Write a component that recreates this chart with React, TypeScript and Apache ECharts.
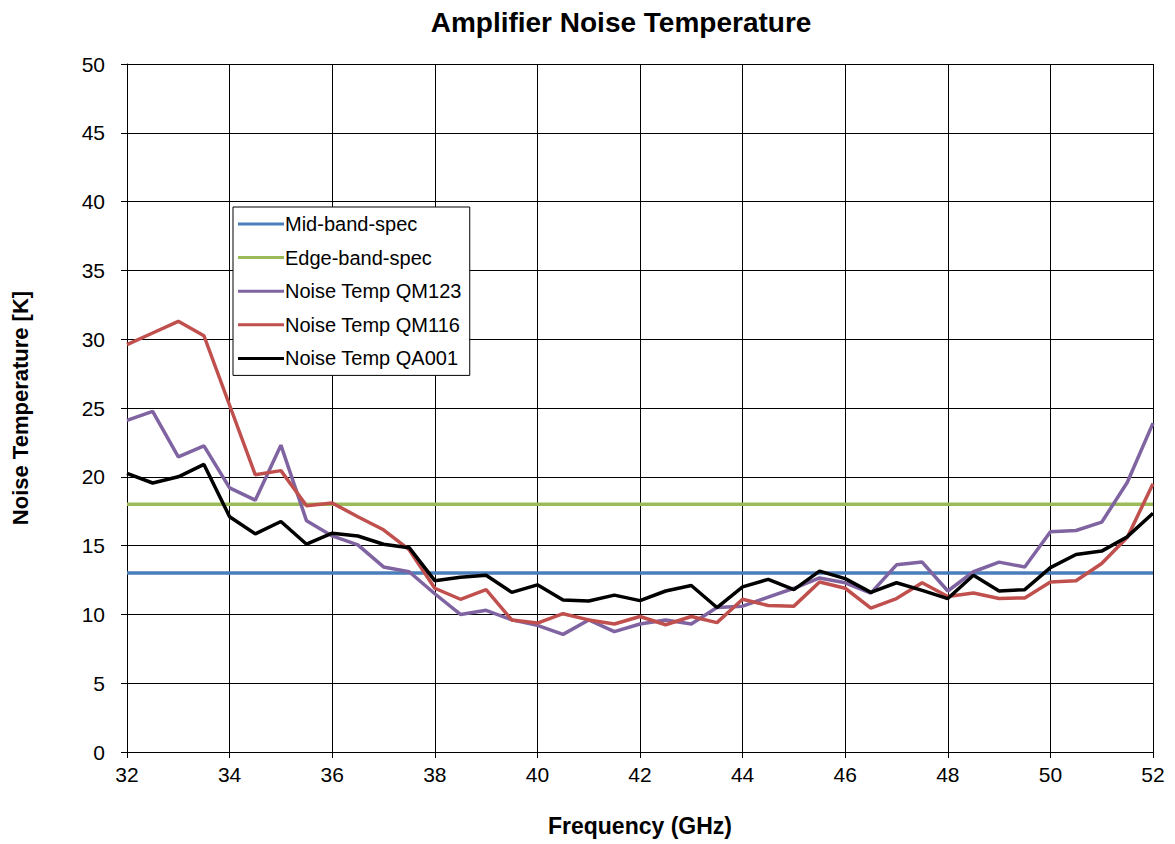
import React, { useEffect, useRef } from "react";
import * as echarts from "echarts";

const freq = [32, 32.5, 33, 33.5, 34, 34.5, 35, 35.5, 36, 36.5, 37, 37.5, 38, 38.5, 39, 39.5, 40, 40.5, 41, 41.5, 42, 42.5, 43, 43.5, 44, 44.5, 45, 45.5, 46, 46.5, 47, 47.5, 48, 48.5, 49, 49.5, 50, 50.5, 51, 51.5, 52];

const midBandSpec = 13;
const edgeBandSpec = 18;

const qm123 = [24.1, 24.75, 21.45, 22.25, 19.2, 18.3, 22.3, 16.8, 15.7, 15.05, 13.45, 13.1, 11.5, 10.0, 10.3, 9.6, 9.2, 8.55, 9.6, 8.75, 9.3, 9.6, 9.3, 10.5, 10.6, 11.25, 11.9, 12.65, 12.3, 11.55, 13.6, 13.8, 11.7, 13.1, 13.8, 13.45, 16.0, 16.1, 16.7, 19.6, 23.9];
const qm116 = [29.6, 30.45, 31.3, 30.25, 25.2, 20.15, 20.45, 17.9, 18.1, 17.1, 16.15, 14.7, 11.9, 11.1, 11.8, 9.6, 9.37, 10.05, 9.6, 9.3, 9.85, 9.25, 9.85, 9.4, 11.1, 10.65, 10.6, 12.35, 11.9, 10.45, 11.15, 12.3, 11.3, 11.55, 11.15, 11.2, 12.35, 12.45, 13.7, 15.6, 19.5];
const qa001 = [20.25, 19.55, 20.0, 20.9, 17.1, 15.85, 16.75, 15.1, 15.9, 15.7, 15.1, 14.85, 12.45, 12.7, 12.85, 11.6, 12.15, 11.05, 10.97, 11.4, 11.0, 11.7, 12.1, 10.5, 12.0, 12.55, 11.8, 13.15, 12.6, 11.6, 12.3, 11.75, 11.15, 12.85, 11.7, 11.8, 13.4, 14.35, 14.6, 15.65, 17.35];

const seriesNames = ["Mid-band-spec", "Edge-band-spec", "Noise Temp QM123", "Noise Temp QM116", "Noise Temp QA001"];
const seriesColors = ["#4A7EBB", "#9BBB59", "#8064A2", "#C0504D", "#000000"];

const FONT = "Liberation Sans, Arial, sans-serif";

export default function App() {
  const ref = useRef<HTMLDivElement>(null);
  useEffect(() => {
    document.body.style.margin = "0";
    const chart = echarts.init(ref.current!, null, { renderer: "svg" });
    const pairs = (ys: number[]) => freq.map((x, i) => [x, ys[i]]);
    const specLine = (v: number) => [[freq[0], v], [freq[freq.length - 1], v]];
    const allData = [
      specLine(midBandSpec),
      specLine(edgeBandSpec),
      pairs(qm123),
      pairs(qm116),
      pairs(qa001),
    ];
    chart.setOption({
      animation: false,
      backgroundColor: "#ffffff",
      title: {
        text: "Amplifier Noise Temperature",
        left: 616,
        textAlign: "center",
        top: 3,
        textStyle: { fontFamily: FONT, fontSize: 28, fontWeight: "bold", color: "#000" },
      },
      grid: { left: 127, right: 22, top: 64, bottom: 92, containLabel: false },
      legend: {
        orient: "vertical",
        left: 233,
        top: 207,
        padding: [7, 8, 7, 5],
        backgroundColor: "#ffffff",
        borderColor: "#000",
        borderWidth: 1,
        itemGap: 13.6,
        itemWidth: 46,
        itemHeight: 3,
        icon: "rect",
        textStyle: { fontFamily: FONT, fontSize: 20, color: "#000", lineHeight: 20, padding: [0, 0, 0, -4] },
        data: seriesNames,
      },
      xAxis: {
        type: "value",
        min: 32,
        max: 52,
        interval: 2,
        name: "Frequency (GHz)",
        nameLocation: "middle",
        nameGap: 62,
        nameTextStyle: { fontFamily: FONT, fontSize: 23, fontWeight: "bold", color: "#000" },
        axisLine: { lineStyle: { color: "#000", width: 1 } },
        axisTick: { show: true, length: 6, inside: false, lineStyle: { color: "#000" } },
        axisLabel: { fontFamily: FONT, fontSize: 21, color: "#000", margin: 12 },
        splitLine: { show: true, lineStyle: { color: "#000", width: 1 } },
      },
      yAxis: {
        type: "value",
        min: 0,
        max: 50,
        interval: 5,
        name: "Noise Temperature [K]",
        nameLocation: "middle",
        nameGap: 96,
        nameTextStyle: { fontFamily: FONT, fontSize: 22, fontWeight: "bold", color: "#000" },
        axisLine: { show: true, lineStyle: { color: "#000", width: 1 } },
        axisTick: { show: true, length: 6, lineStyle: { color: "#000" } },
        axisLabel: { fontFamily: FONT, fontSize: 21, color: "#000", margin: 22 },
        splitLine: { show: true, lineStyle: { color: "#000", width: 1 } },
      },
      series: seriesNames.map((name, i) => ({
        name,
        type: "line",
        data: allData[i],
        symbol: "none",
        color: seriesColors[i],
        lineStyle: { color: seriesColors[i], width: 3.5 },
        z: 2 + i,
      })),
    });
    return () => chart.dispose();
  }, []);
  return <div ref={ref} style={{ width: 1175, height: 844 }} />;
}
